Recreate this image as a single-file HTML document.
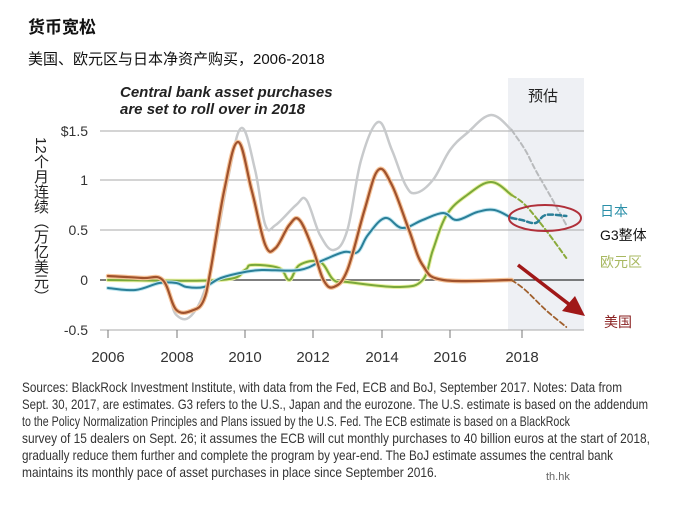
<!DOCTYPE html>
<html><head><meta charset="utf-8"><style>
body{margin:0;background:#fff;width:692px;height:507px;overflow:hidden;font-family:"Liberation Sans","Noto Sans CJK SC",sans-serif;position:relative;}
#yl{position:absolute;left:31px;top:137px;writing-mode:vertical-rl;text-orientation:mixed;font-size:15px;color:#222;line-height:18px;}
</style></head><body>
<svg id="s" width="692" height="507" xmlns="http://www.w3.org/2000/svg" font-family="Liberation Sans, Noto Sans CJK SC, sans-serif">
<text x="28" y="33" font-size="17" font-weight="bold" fill="#111">货币宽松</text>
<text x="28" y="64" font-size="15" fill="#111">美国、欧元区与日本净资产购买，2006-2018</text>
<rect x="508" y="78" width="76" height="252" fill="#eef0f4"/>
<text x="528" y="101" font-size="15" fill="#222">预估</text>
<text x="120" y="97" font-size="15" font-weight="bold" font-style="italic" fill="#222">Central bank asset purchases</text>
<text x="120" y="114" font-size="15" font-weight="bold" font-style="italic" fill="#222">are set to roll over in 2018</text>
<g stroke="#aaa" stroke-width="1">
<line x1="100" y1="131" x2="584" y2="131"/><line x1="100" y1="180" x2="584" y2="180"/>
<line x1="100" y1="230" x2="584" y2="230"/><line x1="100" y1="330" x2="584" y2="330"/>
</g>
<line x1="100" y1="280" x2="584" y2="280" stroke="#333" stroke-width="1.2"/>
<g font-size="14" fill="#333" text-anchor="end">
<text x="88" y="136">$1.5</text><text x="88" y="185">1</text><text x="88" y="235">0.5</text><text x="88" y="285">0</text><text x="88" y="335">-0.5</text>
</g>
<g stroke="#777"><line x1="108" y1="330" x2="108" y2="338"/><line x1="177" y1="330" x2="177" y2="338"/><line x1="245" y1="330" x2="245" y2="338"/><line x1="313" y1="330" x2="313" y2="338"/><line x1="382" y1="330" x2="382" y2="338"/><line x1="450" y1="330" x2="450" y2="338"/><line x1="522" y1="330" x2="522" y2="338"/></g>
<g font-size="15" fill="#333" text-anchor="middle">
<text x="108" y="362">2006</text><text x="177" y="362">2008</text><text x="245" y="362">2010</text><text x="313" y="362">2012</text><text x="382" y="362">2014</text><text x="450" y="362">2016</text><text x="522" y="362">2018</text>
</g>
<g id="lines" fill="none" stroke-linejoin="round" stroke-linecap="round"></g>
<ellipse cx="545" cy="218" rx="36" ry="13" fill="none" stroke="#b0303a" stroke-width="2"/>
<line x1="518" y1="265" x2="570" y2="305" stroke="#a01818" stroke-width="3.5"/>
<polygon points="585,316 562,311 575,296" fill="#a01818"/>
<text x="600" y="216" font-size="14" fill="#2a8fa8">日本</text>
<text x="600" y="240" font-size="14" fill="#111">G3整体</text>
<text x="600" y="267" font-size="14" fill="#a8b860">欧元区</text>
<text x="604" y="327" font-size="14" fill="#8a2020">美国</text>
<g font-size="14" fill="#333">
<text x="22" y="392" textLength="600" lengthAdjust="spacingAndGlyphs">Sources: BlackRock Investment Institute, with data from the Fed, ECB and BoJ, September 2017. Notes: Data from</text>
<text x="22" y="409" textLength="626" lengthAdjust="spacingAndGlyphs">Sept. 30, 2017, are estimates. G3 refers to the U.S., Japan and the eurozone. The U.S. estimate is based on the addendum</text>
<text x="22" y="426" textLength="548" lengthAdjust="spacingAndGlyphs">to the Policy Normalization Principles and Plans issued by the U.S. Fed. The ECB estimate is based on a BlackRock</text>
<text x="22" y="443" textLength="628" lengthAdjust="spacingAndGlyphs">survey of 15 dealers on Sept. 26; it assumes the ECB will cut monthly purchases to 40 billion euros at the start of 2018,</text>
<text x="22" y="460" textLength="591" lengthAdjust="spacingAndGlyphs">gradually reduce them further and complete the program by year-end. The BoJ estimate assumes the central bank</text>
<text x="22" y="477" textLength="415" lengthAdjust="spacingAndGlyphs">maintains its monthly pace of asset purchases in place since September 2016.</text>
</g>
<text x="546" y="480" font-size="11" fill="#666">th.hk</text>
</svg>
<div id="yl">12个月连续（万亿美元）</div>
<script>
function X(y){return 108+(y-2006)*34.2}function Y(v){return 280-v*100}
function P(a){var p=a.map(q=>[X(q[0]),Y(q[1])]);var d='M'+p[0][0].toFixed(1)+','+p[0][1].toFixed(1);
for(var i=0;i<p.length-1;i++){var p0=p[i-1]||p[i],p1=p[i],p2=p[i+1],p3=p[i+2]||p2;var t=0.18;
var c1=[p1[0]+(p2[0]-p0[0])*t,p1[1]+(p2[1]-p0[1])*t],c2=[p2[0]-(p3[0]-p1[0])*t,p2[1]-(p3[1]-p1[1])*t];
d+=' C'+c1.map(v=>v.toFixed(1)).join(',')+' '+c2.map(v=>v.toFixed(1)).join(',')+' '+p2.map(v=>v.toFixed(1)).join(',');}return d;}
var g=document.getElementById('lines');
function L(a,c,w,d){var e=document.createElementNS('http://www.w3.org/2000/svg','path');e.setAttribute('d',P(a));e.setAttribute('stroke',c);e.setAttribute('stroke-width',w);if(d)e.setAttribute('stroke-dasharray',d);g.appendChild(e);}
var g3=[[2006,0],[2007.5,0],[2008,-.35],[2008.5,-.33],[2009,.1],[2009.5,1.0],[2009.9,1.52],[2010.3,1.1],[2010.6,.55],[2010.9,.55],[2011.5,.75],[2011.8,.8],[2012.2,.45],[2012.6,.3],[2013.0,.5],[2013.4,1.2],[2013.9,1.58],[2014.3,1.3],[2014.7,.95],[2015.0,.87],[2015.5,1.0],[2016.0,1.3],[2016.5,1.47],[2017.2,1.65],[2017.8,1.5]];
var g3d=[[2017.8,1.5],[2018.2,1.3],[2018.5,1.1],[2019.0,.8],[2019.4,.55]];
var us=[[2006,.04],[2007,.02],[2007.6,0],[2008,-.3],[2008.5,-.3],[2008.8,-.2],[2009,.1],[2009.4,.9],[2009.8,1.38],[2010.2,.9],[2010.6,.35],[2010.9,.32],[2011.3,.55],[2011.6,.6],[2012.0,.3],[2012.3,0],[2012.6,-.07],[2013.0,.1],[2013.5,.7],[2013.9,1.1],[2014.3,.95],[2014.8,.5],[2015.2,.15],[2015.8,0],[2017.8,0]];
var usd=[[2017.8,0],[2018.2,-.1],[2018.8,-.3],[2019.4,-.47]];
var jp=[[2006,-.08],[2006.8,-.1],[2007.5,-.03],[2008,-.03],[2008.3,-.07],[2008.8,-.07],[2009.3,.02],[2010,.08],[2010.5,.1],[2011.6,.1],[2012.3,.2],[2012.9,.28],[2013.3,.28],[2013.6,.45],[2014.1,.62],[2014.6,.52],[2015.2,.6],[2015.8,.67],[2016.2,.6],[2016.8,.68],[2017.3,.7],[2017.8,.62]];
var jpd=[[2017.8,.62],[2018.1,.6],[2018.5,.57],[2018.8,.65],[2019.4,.64]];
var eu=[[2006,0],[2009.3,0],[2010,.1],[2010.2,.15],[2011,.12],[2011.3,0],[2011.6,.15],[2012.2,.18],[2012.6,0],[2013,-.02],[2014.5,-.07],[2015.2,0],[2015.5,.3],[2015.9,.65],[2016.5,.85],[2017.2,.98],[2017.8,.85]];
var eud=[[2017.8,.85],[2018.2,.75],[2018.8,.5],[2019.4,.22]];
L(g3,'#c8cacc',2.5);L(g3d,'#b8babc',2,'5,3');
L(eu,'#e8f0a0',4);L(eu,'#7aa83a',2);L(eud,'#8aaa3a',2,'5,3');
L(jp,'#bfe6f0',4);L(jp,'#2a7f98',2);L(jpd,'#2a7f98',2.5,'5,3');
L(us,'#f6c49a',4.5);L(us,'#a0522d',2.2);L(usd,'#a0602d',1.8,'5,3');
</script>
</body></html>
